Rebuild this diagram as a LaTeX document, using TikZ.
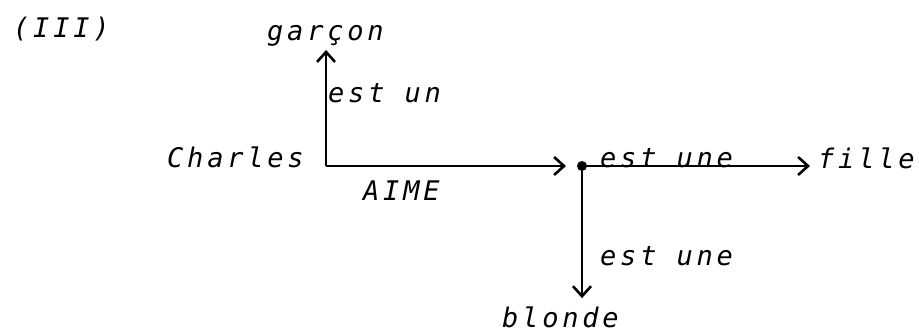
\documentclass[tikz,border=0pt]{standalone}
\usepackage{fontspec}
\newfontfamily\plotfont[LetterSpace=14]{DejaVu Sans Mono}
\usetikzlibrary{arrows.meta}
\begin{document}
\begin{tikzpicture}[x=1pt, y=-1pt,
    lbl/.style={anchor=base west, inner sep=0pt,
      font=\plotfont\itshape\fontsize{27}{29}\selectfont},
    rel/.style={line width=2.5pt,
      -{Straight Barb[length=10pt, width=18pt, line width=2.6pt]}}]
  \useasboundingbox (0,0) rectangle (919,332);
  \node[lbl] (num) at (13,37) {(III)};
  \node[lbl] (garcon) at (267,40) {garçon};
  \node[lbl] (estun) at (328,102) {est un};
  \node[lbl] (charles) at (167,167) {Charles};
  \node[lbl] (aime) at (363,200) {AIME};
  \node[lbl] (estune1) at (600,167) {est une};
  \node[lbl] (fille) at (818,168) {fille};
  \node[lbl] (estune2) at (600,265) {est une};
  \node[lbl] (blonde) at (502,327) {blonde};
  \coordinate (coin) at (326,166);
  \node[circle, fill, inner sep=0pt, minimum size=10pt] (noeud) at (582,166) {};
  \draw[rel, shorten >=4pt] (coin) -- (coin |- garcon.south);
  \draw[rel, shorten >=16pt] (coin) -- (noeud.center);
  \draw[rel, shorten >=8pt] (noeud) -- (noeud -| fille.west);
  \draw[rel, shorten >=8pt] (noeud) -- (noeud |- blonde.north);
\end{tikzpicture}
\end{document}
